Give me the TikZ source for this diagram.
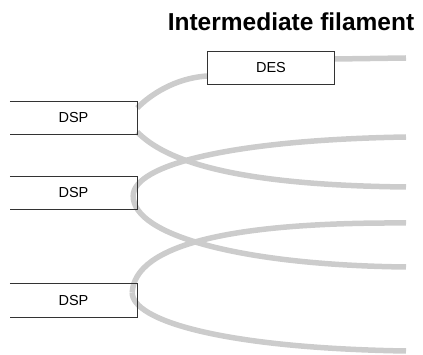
\documentclass[tikz,border=0pt]{standalone}
\usepackage{fontspec}
\setsansfont{Liberation Sans}
\usetikzlibrary{positioning, calc}

\begin{document}
\begin{tikzpicture}[
  x=1pt, y=-1pt,
  every node/.style={font=\fontsize{14.5}{17}\selectfont\sffamily, inner sep=0pt},
  protein/.style={minimum width=127pt, minimum height=33pt},
  outline/.style={draw=black!80, line width=0.9pt},
  filament/.style={draw=gray!40, line width=5.5pt}
]
\useasboundingbox (0,0) rectangle (423,355);

% title
\node[font=\fontsize{24.5}{28}\selectfont\sffamily\bfseries] (title) at (291,22) {Intermediate filament};

% boxes
\node[protein] (des) at (271,68) {DES};
\node[protein] (dspa) at (73.5,118) {DSP};
\node[protein] (dspb) at (73.5,193) {DSP};
\node[protein] (dspc) at (73.5,300.5) {DSP};

% free ends of the filaments
\coordinate (end1) at (406,58);
\coordinate (end2) at (406,137);
\coordinate (end3) at (406,187);
\coordinate (end4) at (406,223);
\coordinate (end5) at (406,267);
\coordinate (end6) at (406,351);

% loop points
\coordinate (loopb) at ([xshift=-4pt,yshift=-3pt]dspb.east);
\coordinate (loopc) at ([xshift=-5pt,yshift=8pt]dspc.east);

\draw[filament] ([yshift=9pt]des.east) -- (end1);
\draw[filament] ([yshift=10pt]dspa.east) .. controls (150,95) and (175,78) .. ([yshift=-8pt]des.west);
\draw[filament] ([yshift=-14pt]dspa.east) .. controls (165,160) and (230,185) .. (end3);
\draw[filament] (loopb) .. controls (133,165) and (230,140) .. (end2);
\draw[filament] (loopb) .. controls (133,235) and (240,265) .. (end5);
\draw[filament] (loopc) .. controls (135,245) and (230,222) .. (end4);
\draw[filament] (loopc) .. controls (132,320) and (220,348) .. (end6);

% outlines on top
\draw[outline] (des.north west) rectangle (des.south east);
\foreach \n in {dspa,dspb,dspc}
  \draw[outline] (\n.north west) -- (\n.north east) -- (\n.south east) -- (\n.south west);
\end{tikzpicture}
\end{document}
